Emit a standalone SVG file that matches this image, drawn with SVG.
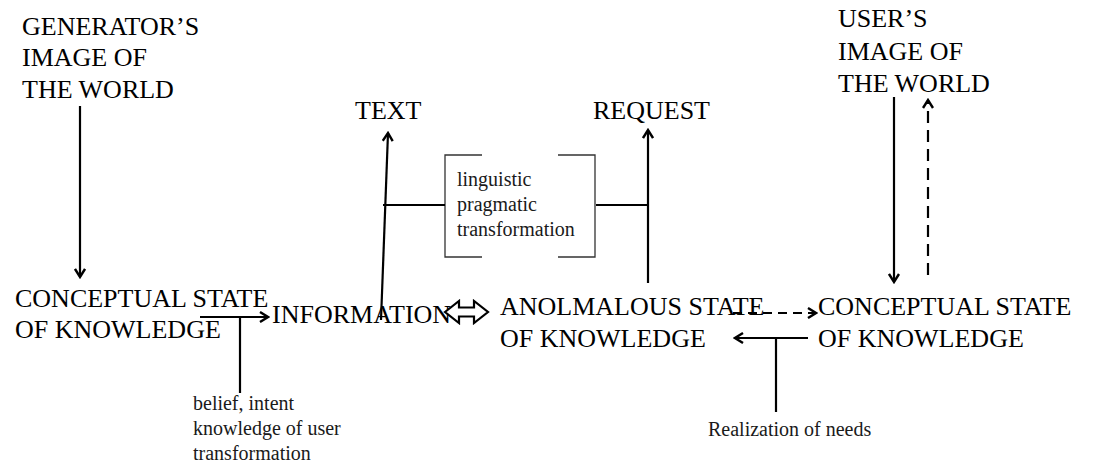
<svg xmlns="http://www.w3.org/2000/svg" width="1098" height="469" viewBox="0 0 1098 469">
<style>
.big{font-family:'Liberation Serif','Times New Roman','DejaVu Serif',serif;font-size:26px;fill:#000}
.small{font-family:'Liberation Serif','Times New Roman','DejaVu Serif',serif;font-size:20px;fill:#1a1a1a}
.ln{stroke:#000;stroke-width:2.2;fill:none}
.dash{stroke-dasharray:9 6}
.dash2{stroke-dasharray:12 7}
.brk{stroke:#333;stroke-width:1.3;fill:none}
</style>
<defs>
<marker id="ah" viewBox="0 0 12 12" refX="10" refY="6" markerWidth="12" markerHeight="12" markerUnits="userSpaceOnUse" orient="auto">
<path d="M2,1 L10,6 L2,11" fill="none" stroke="#000" stroke-width="2.4"/>
</marker>
</defs>
<g id="gen-image" font-family="Liberation Serif"><text class="big" x="22" y="35">GENERATOR’S</text><text class="big" x="22" y="66">IMAGE OF</text><text class="big" x="22" y="98">THE WORLD</text></g>
<g id="user-image"><text class="big" x="838" y="27">USER’S</text><text class="big" x="838" y="60">IMAGE OF</text><text class="big" x="838" y="92">THE WORLD</text></g>
<g id="conceptual-left"><text class="big" x="15" y="307">CONCEPTUAL STATE</text><text class="big" x="15" y="338">OF KNOWLEDGE</text></g>
<g id="information"><text class="big" x="272" y="323">INFORMATION</text></g>
<g id="anomalous"><text class="big" x="500" y="315">ANOLMALOUS STATE</text><text class="big" x="500" y="347">OF KNOWLEDGE</text></g>
<g id="conceptual-right"><text class="big" x="818" y="315">CONCEPTUAL STATE</text><text class="big" x="818" y="347">OF KNOWLEDGE</text></g>
<g id="text-node"><text class="big" x="355" y="119">TEXT</text></g>
<g id="request-node"><text class="big" x="593" y="119">REQUEST</text></g>
<g id="transformation-box">
<path class="brk" d="M482,155 H445 V257 H482"/>
<path class="brk" d="M558,155 H595 V257 H558"/>
<text class="small" x="457" y="186">linguistic</text><text class="small" x="457" y="211">pragmatic</text><text class="small" x="457" y="236">transformation</text>
</g>
<g id="belief-label"><text class="small" x="193" y="410">belief, intent</text><text class="small" x="193" y="435">knowledge of user</text><text class="small" x="193" y="460">transformation</text></g>
<g id="needs-label"><text class="small" x="708" y="436">Realization of needs</text></g>
<g id="connectors">
<line class="ln" x1="80" y1="106" x2="80" y2="277" marker-end="url(#ah)"/>
<line class="ln" x1="200" y1="317" x2="268" y2="317" marker-end="url(#ah)"/>
<line class="ln" x1="240" y1="317" x2="240" y2="393"/>
<line class="ln" x1="381" y1="320" x2="388" y2="133" marker-end="url(#ah)"/>
<line class="ln" x1="648" y1="283" x2="648" y2="130" marker-end="url(#ah)"/>
<line class="ln" x1="383" y1="205" x2="445" y2="205"/>
<line class="ln" x1="596" y1="205" x2="648" y2="205"/>
<path d="M445,312 L459,301 L459,307.5 L474,307.5 L474,301 L488,312 L474,323 L474,316.5 L459,316.5 L459,323 Z" fill="#fff" stroke="#000" stroke-width="2.2" stroke-linejoin="miter"/>
<line class="ln dash" x1="733" y1="313" x2="816" y2="313" marker-end="url(#ah)"/>
<line class="ln" x1="808" y1="338" x2="735" y2="338" marker-end="url(#ah)"/>
<line class="ln" x1="776" y1="338" x2="776" y2="412"/>
<line class="ln" x1="894" y1="97" x2="894" y2="282" marker-end="url(#ah)"/>
<line class="ln dash2" x1="928" y1="275" x2="928" y2="100" marker-end="url(#ah)"/>
</g>
</svg>
